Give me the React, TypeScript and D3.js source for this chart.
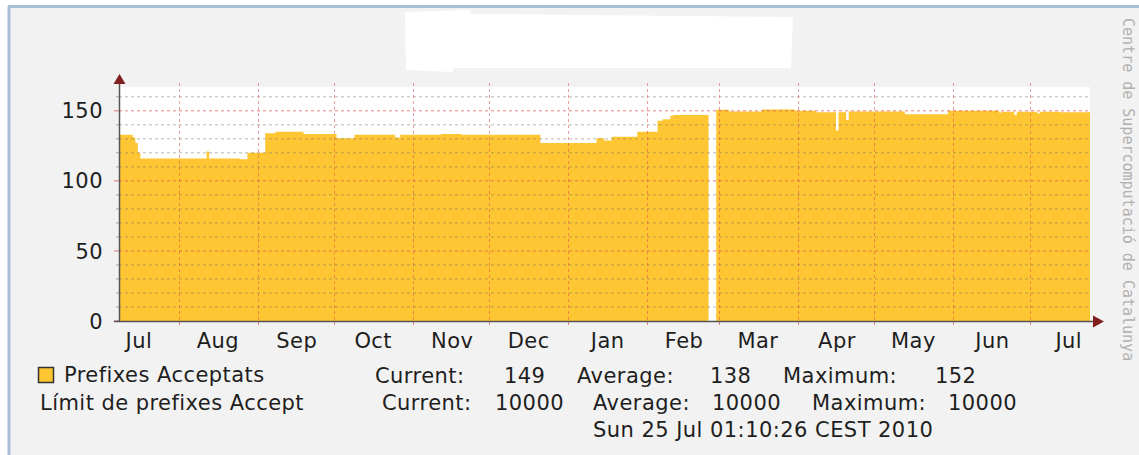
import React from 'react';
import * as d3 from 'd3';

// series (step starts; null = no data)
const dates = [
  '2009-07-09', '2009-07-13', '2009-07-14', '2009-07-15', '2009-07-16', '2009-07-17',
  '2009-08-12', '2009-08-13', '2009-08-25', '2009-08-28', '2009-09-04', '2009-09-08',
  '2009-09-19', '2009-10-02', '2009-10-09', '2009-10-25', '2009-10-27', '2009-11-12',
  '2009-11-20', '2009-12-21', '2010-01-12', '2010-01-15', '2010-01-18', '2010-01-28',
  '2010-02-05', '2010-02-07', '2010-02-10', '2010-02-11', '2010-02-25', '2010-02-25',
  '2010-02-28', '2010-03-05', '2010-03-18', '2010-03-31', '2010-04-08', '2010-04-16',
  '2010-04-17', '2010-04-20', '2010-04-21', '2010-05-13', '2010-05-30', '2010-06-19',
  '2010-06-20', '2010-06-25', '2010-06-26', '2010-07-04', '2010-07-05', '2010-07-13',
  '2010-07-25',
];
const values = [
  133, 133, 131, 127, 120, 116,
  121, 116, 115.5, 120, 134, 135,
  133.5, 130.5, 133, 131, 133, 133.5,
  133, 127, 130.5, 128.8, 131.5, 135,
  143, 144, 146.5, 147, 147, null,
  150.7, 149.5, 151, 150, 149, 136,
  149, 143.5, 149.5, 147.6, 150, 148.8,
  149.3, 147, 149.3, 148, 149.3, 148.9,
  149,
];

const monthStarts = [
  '2009-08-01', '2009-09-01', '2009-10-01', '2009-11-01', '2009-12-01', '2010-01-01',
  '2010-02-01', '2010-03-01', '2010-04-01', '2010-05-01', '2010-06-01', '2010-07-01',
];
const monthLabels = ['Jul', 'Aug', 'Sep', 'Oct', 'Nov', 'Dec', 'Jan', 'Feb', 'Mar', 'Apr', 'May', 'Jun', 'Jul'];
const labelDates = [
  '2009-07-16', '2009-08-16', '2009-09-16', '2009-10-16', '2009-11-16', '2009-12-16',
  '2010-01-16', '2010-02-15', '2010-03-16', '2010-04-16', '2010-05-16', '2010-06-16', '2010-07-16',
];
const yMajor = [0, 50, 100, 150];
const yMinor = [10, 20, 30, 40, 60, 70, 80, 90, 110, 120, 130, 140, 160];

const legendRows = [
  ['Current:', '149', 'Average:', '138', 'Maximum:', '152'],
  ['Current:', '10000', 'Average:', '10000', 'Maximum:', '10000'],
];
const stamp = 'Sun 25 Jul 01:10:26 CEST 2010';
const watermark = 'Centre de Supercomputació de Catalunya';

const W = 1139;
const H = 455;
const left = 120;
const right = 1090;
const top = 87;
const bottom = 321;
const FONT = 'DejaVu Sans, sans-serif';
const YELLOW = '#fdc632';
const INK = '#1e1e1e';

const parse = (s: string) => new Date(s + 'T00:00:00');

export default function App() {
  const x = d3.scaleTime()
    .domain([parse('2009-07-09'), new Date('2010-07-24T17:00:00')])
    .range([left, right]);
  const y = d3.scaleLinear().domain([0, 167]).range([bottom, top]);

  const data = dates.map((d, i) => ({ date: parse(d), v: values[i] }));
  const area = d3.area<{ date: Date; v: number | null }>()
    .defined(d => d.v != null)
    .x(d => Math.min(x(d.date), right))
    .y0(y(0))
    .y1(d => y(d.v as number))
    .curve(d3.curveStepAfter);

  const rowX = [
    [375, 504, 577, 710, 783, 935],
    [382, 495, 593, 712, 812, 948],
  ];

  return (
    <svg width={W} height={H} style={{ position: 'absolute', left: 0, top: 0 }} fontFamily={FONT}>
      <rect width={W} height={H} fill="#fff" />
      <rect x={9} y={7} width={W - 9} height={H - 7} fill="#f2f2f2" />
      <line x1={9} x2={9} y1={6} y2={H} stroke="#a9bfd8" strokeWidth={3} />
      <line x1={8} x2={W} y1={6.5} y2={6.5} stroke="#a9bfd8" strokeWidth={3} />

      {/* redacted title */}
      <path d="M405,12 L470,10 L472,14 L793,17 L791,68 L455,68 L452,72 L406,70 Z" fill="#fff" />

      {/* canvas */}
      <rect x={left - 1} y={top} width={right - left + 1} height={bottom - top} fill="#fff" />
      <path d={area(data) || ''} fill={YELLOW} />

      {/* minor grid */}
      {yMinor.map(v => (
        <g key={'mi' + v}>
          <line x1={left - 1} x2={right} y1={y(v)} y2={y(v)} stroke="rgba(120,110,100,0.5)" strokeDasharray="3,3" />
          <line x1={left - 4} x2={left - 1} y1={y(v)} y2={y(v)} stroke="rgba(143,143,143,0.8)" />
        </g>
      ))}
      {/* major grid */}
      {yMajor.filter(v => v > 0).map(v => (
        <line key={'ma' + v} x1={left - 1} x2={right} y1={y(v)} y2={y(v)} stroke="rgba(222,80,80,0.7)" strokeDasharray="3,3" />
      ))}
      {yMajor.map(v => (
        <line key={'mt' + v} x1={left - 6} x2={left - 1} y1={y(v)} y2={y(v)} stroke="rgba(222,80,80,0.8)" />
      ))}
      {monthStarts.map(d => {
        const px = Math.round(x(parse(d))) + 0.5;
        return (
          <g key={d}>
            <line x1={px} x2={px} y1={top - 4} y2={bottom} stroke="rgba(222,80,80,0.55)" strokeDasharray="3,3" />
            <line x1={px} x2={px} y1={bottom} y2={bottom + 4} stroke="rgba(222,80,80,0.7)" />
          </g>
        );
      })}

      {/* axes */}
      <line x1={left - 0.5} x2={left - 0.5} y1={top - 3} y2={bottom} stroke="#555" strokeWidth={1.5} />
      <line x1={left - 6} x2={right + 6} y1={bottom + 0.5} y2={bottom + 0.5} stroke="#555" strokeWidth={1.5} />
      <path d={`M${left - 0.5},${top - 13} l-6,10 h12 z`} fill="#7f1f1f" />
      <path d={`M${right + 14},${bottom + 0.5} l-11,-6 v12 z`} fill="#7f1f1f" />

      <g fontSize={21} fill={INK} letterSpacing={0.45}>
        {/* y labels */}
        {yMajor.map(v => (
          <text key={'yl' + v} x={103} y={y(v)} dy="0.36em" textAnchor="end">{v}</text>
        ))}
        {/* x labels */}
        {labelDates.map((d, i) => (
          <text key={'xl' + i} x={x(parse(d)) + 1} y={348} textAnchor="middle">{monthLabels[i]}</text>
        ))}

        {/* legend */}
        <text x={64} y={382}>Prefixes Acceptats</text>
        <text x={40} y={410}>Límit de prefixes Accept</text>
        {legendRows.map((row, r) => row.map((t, c) => (
          <text key={r + '-' + c} x={rowX[r][c]} y={r === 0 ? 383 : 410}>{t}</text>
        )))}
        <text x={593} y={437}>{stamp}</text>
      </g>
      <rect x={38.5} y={367.5} width={15} height={15} fill={YELLOW} stroke="#333" strokeWidth={1.5} />

      <text transform="translate(1123,18) rotate(90)" fontFamily="DejaVu Sans Mono, monospace" fontSize={15} fill="#b0b0b0">{watermark}</text>
    </svg>
  );
}
